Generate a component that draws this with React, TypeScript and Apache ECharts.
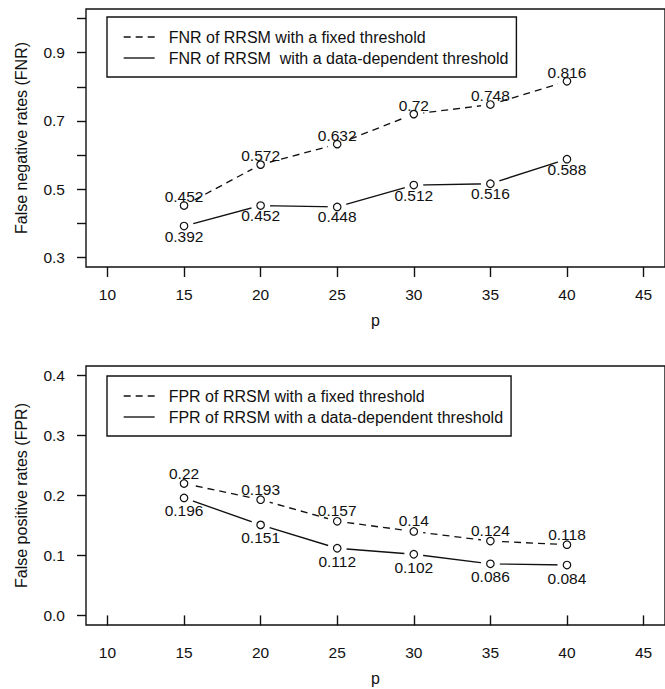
import React, { useEffect, useRef } from "react";
import * as echarts from "echarts";

// ---- data ----
const pValues = [15, 20, 25, 30, 35, 40];
const fnrFixed = [0.452, 0.572, 0.632, 0.72, 0.748, 0.816];
const fnrData = [0.392, 0.452, 0.448, 0.512, 0.516, 0.588];
const fprFixed = [0.22, 0.193, 0.157, 0.14, 0.124, 0.118];
const fprData = [0.196, 0.151, 0.112, 0.102, 0.086, 0.084];

const xTicks = [10, 15, 20, 25, 30, 35, 40, 45];
const fnrTicks = [0.3, 0.4, 0.5, 0.6, 0.7, 0.8, 0.9, 1.0];
const fnrTickLabels = [0.3, 0.5, 0.7, 0.9];
const fprTicks = [0.0, 0.1, 0.2, 0.3, 0.4];
const fprTickLabels = [0.0, 0.1, 0.2, 0.3, 0.4];

const fnrFixedName = "FNR of RRSM with a fixed threshold";
const fnrDataName = "FNR of RRSM  with a data-dependent threshold";
const fprFixedName = "FPR of RRSM with a fixed threshold";
const fprDataName = "FPR of RRSM with a data-dependent threshold";
const fnrTitle = "False negative rates (FNR)";
const fprTitle = "False positive rates (FPR)";
const xTitle = "p";

const FONT = "'Liberation Sans', Arial, Helvetica, sans-serif";
const INK = "#111";

function pairs(ys: number[]) {
  return pValues.map((p, i) => [p, ys[i]]);
}

export default function App() {
  const ref = useRef<HTMLDivElement>(null);

  useEffect(() => {
    document.body.style.margin = "0";
    const chart = echarts.init(ref.current!, undefined, { renderer: "svg" });

    const xAxisFor = (gi: number) => ({
      type: "value",
      gridIndex: gi,
      min: 8.6,
      max: 46.4,
      axisLine: { show: false },
      splitLine: { show: false },
      axisTick: {
        show: true,
        customValues: xTicks,
        length: 10,
        lineStyle: { color: INK, width: 1.4 },
      },
      axisLabel: {
        customValues: xTicks,
        margin: 19,
        fontSize: 15.5,
        color: INK,
        fontFamily: FONT,
      },
      name: xTitle,
      nameLocation: "middle",
      nameGap: 45,
      nameTextStyle: { fontSize: 16, color: INK, fontFamily: FONT },
    });

    const yAxisFor = (
      gi: number,
      min: number,
      max: number,
      ticks: number[],
      labels: number[],
      title: string
    ) => ({
      type: "value",
      gridIndex: gi,
      min,
      max,
      axisLine: { show: false },
      splitLine: { show: false },
      axisTick: {
        show: true,
        customValues: ticks,
        length: 9,
        lineStyle: { color: INK, width: 1.4 },
      },
      axisLabel: {
        customValues: labels,
        margin: 21,
        fontSize: 15.5,
        color: INK,
        fontFamily: FONT,
        formatter: (v: number) => v.toFixed(1),
      },
      name: title,
      nameLocation: "middle",
      nameGap: 57,
      nameTextStyle: { fontSize: 16, color: INK, fontFamily: FONT },
    });

    const lineSeries = (name: string, ys: number[], gi: number, dashed: boolean) => ({
      type: "line",
      name,
      xAxisIndex: gi,
      yAxisIndex: gi,
      data: pairs(ys),
      symbol: "none",
      silent: true,
      z: 2,
      lineStyle: { color: INK, width: 1.35, type: dashed ? [7, 5] : "solid" },
      itemStyle: { color: INK },
    });

    const haloSeries = (ysA: number[], ysB: number[], gi: number) => ({
      type: "scatter",
      xAxisIndex: gi,
      yAxisIndex: gi,
      data: [...pairs(ysA), ...pairs(ysB)],
      symbol: "circle",
      symbolSize: 19,
      silent: true,
      z: 3,
      itemStyle: { color: "#ffffff", opacity: 1 },
    });

    const pointSeries = (ys: number[], gi: number, dy: number) => ({
      type: "scatter",
      xAxisIndex: gi,
      yAxisIndex: gi,
      data: pairs(ys),
      symbol: "circle",
      symbolSize: 7.5,
      silent: true,
      z: 4,
      itemStyle: { color: "#ffffff", borderColor: INK, borderWidth: 1.2, opacity: 1 },
      label: {
        show: true,
        position: "inside",
        offset: [0, dy],
        color: INK,
        fontSize: 15.5,
        fontFamily: FONT,
        formatter: (p: any) => String(p.value[1]),
      },
    });

    const legendFor = (top: number, names: string[]) => ({
      data: names,
      orient: "vertical",
      left: 107,
      top,
      padding: [12, 8, 11, 16],
      itemWidth: 31,
      itemHeight: 14,
      itemGap: 5,
      borderColor: INK,
      borderWidth: 1.4,
      borderRadius: 0,
      selectedMode: false,
      itemStyle: { color: "transparent", borderColor: "transparent", borderWidth: 0, opacity: 0 },
      lineStyle: { color: INK, width: 1.35, opacity: 1 },
      textStyle: {
        fontSize: 16,
        color: INK,
        fontFamily: FONT,
        lineHeight: 16,
        padding: [0, 0, 0, 9],
      },
    });

    chart.setOption({
      animation: false,
      backgroundColor: "#ffffff",
      textStyle: { fontFamily: FONT },
      grid: [
        { left: 86, top: 9, width: 580, height: 258, show: true, borderColor: INK, borderWidth: 1.4, backgroundColor: "transparent" },
        { left: 86, top: 366, width: 580, height: 259, show: true, borderColor: INK, borderWidth: 1.4, backgroundColor: "transparent" },
      ],
      xAxis: [xAxisFor(0), xAxisFor(1)],
      yAxis: [
        yAxisFor(0, 0.272, 1.028, fnrTicks, fnrTickLabels, fnrTitle),
        yAxisFor(1, -0.016, 0.416, fprTicks, fprTickLabels, fprTitle),
      ],
      legend: [
        legendFor(17, [fnrFixedName, fnrDataName]),
        legendFor(376, [fprFixedName, fprDataName]),
      ],
      series: [
        lineSeries(fnrFixedName, fnrFixed, 0, true),
        lineSeries(fnrDataName, fnrData, 0, false),
        haloSeries(fnrFixed, fnrData, 0),
        pointSeries(fnrFixed, 0, -9),
        pointSeries(fnrData, 0, 10),
        lineSeries(fprFixedName, fprFixed, 1, true),
        lineSeries(fprDataName, fprData, 1, false),
        haloSeries(fprFixed, fprData, 1),
        pointSeries(fprFixed, 1, -10.5),
        pointSeries(fprData, 1, 13),
      ],
    });

    return () => chart.dispose();
  }, []);

  return (
    <div
      ref={ref}
      style={{ position: "absolute", left: 0, top: 0, width: 665, height: 689, background: "#fff" }}
    />
  );
}
